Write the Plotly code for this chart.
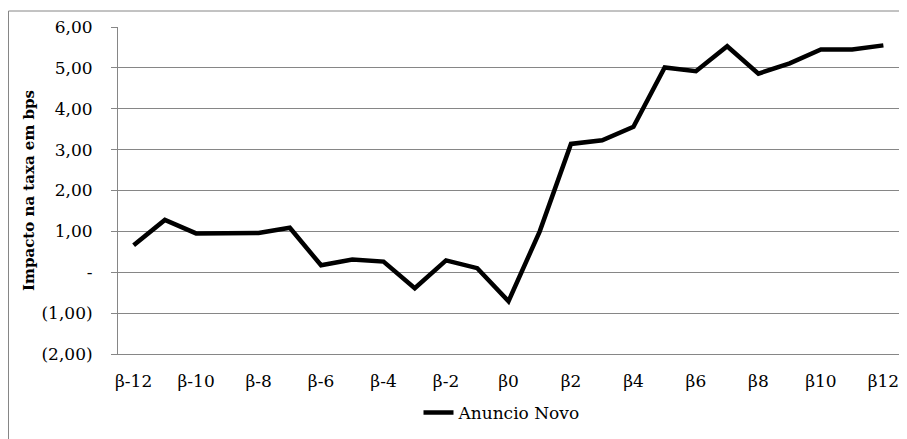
import plotly.graph_objects as go

categories = ["β-12", "β-11", "β-10", "β-9", "β-8", "β-7", "β-6", "β-5", "β-4", "β-3",
              "β-2", "β-1", "β0", "β1", "β2", "β3", "β4", "β5", "β6", "β7",
              "β8", "β9", "β10", "β11", "β12"]
anuncio_novo = [0.66, 1.28, 0.95, 0.95, 0.96, 1.09, 0.17, 0.31, 0.26, -0.39,
                0.29, 0.10, -0.71, 1.00, 3.14, 3.23, 3.56, 5.01, 4.92, 5.53,
                4.86, 5.11, 5.45, 5.45, 5.55]
x_tick_labels = ["β-12", "β-10", "β-8", "β-6", "β-4", "β-2", "β0",
                 "β2", "β4", "β6", "β8", "β10", "β12"]
y_tick_vals = [6, 5, 4, 3, 2, 1, 0, -1, -2]
y_tick_text = ["6,00", "5,00", "4,00", "3,00", "2,00", "1,00", "-", "(1,00)", "(2,00)"]

FONT = "DejaVu Serif"
GRID = "#868686"

fig = go.Figure()
fig.add_trace(go.Scatter(
    x=categories, y=anuncio_novo, mode="lines", name="Anuncio Novo",
    line=dict(color="black", width=4.5),
))

# page body has an 8px margin, so the figure sits at (8, 8) in the window
W, H = 899, 431
L, R, T, B = 110, 8, 19, 85
pw, ph = W - L - R, H - T - B

fig.update_layout(
    width=W, height=H,
    margin=dict(l=L, r=R, t=T, b=B, autoexpand=False),
    paper_bgcolor="white", plot_bgcolor="white",
    font=dict(family=FONT, size=17, color="black"),
    showlegend=True,
    legend=dict(orientation="h", x=(494 - L) / pw, xanchor="center",
                y=(T + ph - 405) / ph, yanchor="middle",
                font=dict(family=FONT, size=17, color="black"),
                bgcolor="rgba(0,0,0,0)"),
    xaxis=dict(
        type="category", categoryorder="array", categoryarray=categories,
        tickmode="array", tickvals=x_tick_labels, ticktext=x_tick_labels,
        showgrid=False, showline=True, linecolor=GRID, linewidth=1,
        ticks="", ticklabelstandoff=12, zeroline=False,
        tickfont=dict(family=FONT, size=17, color="black"),
        range=[-0.5, len(categories) - 0.5],
    ),
    yaxis=dict(
        range=[-2, 6], tickmode="array", tickvals=y_tick_vals, ticktext=y_tick_text,
        showgrid=True, gridcolor=GRID, gridwidth=1,
        showline=True, linecolor=GRID, linewidth=1,
        ticks="outside", ticklen=6, tickcolor=GRID, tickwidth=1,
        ticklabelstandoff=15, zeroline=False,
        tickfont=dict(family=FONT, size=17, color="black"),
        title=dict(text="<b>Impacto na taxa em bps</b>", standoff=3,
                   font=dict(family=FONT, size=15, color="black")),
    ),
    shapes=[dict(type="rect", xref="paper", yref="paper",
                 x0=(0.5 - L) / pw, x1=(W + 5 - L) / pw,
                 y0=(T + ph - (H + 5)) / ph, y1=(T + ph - 3) / ph,
                 line=dict(color=GRID, width=1), fillcolor="rgba(0,0,0,0)",
                 layer="below")],
)

fig.write_html("out.html")
